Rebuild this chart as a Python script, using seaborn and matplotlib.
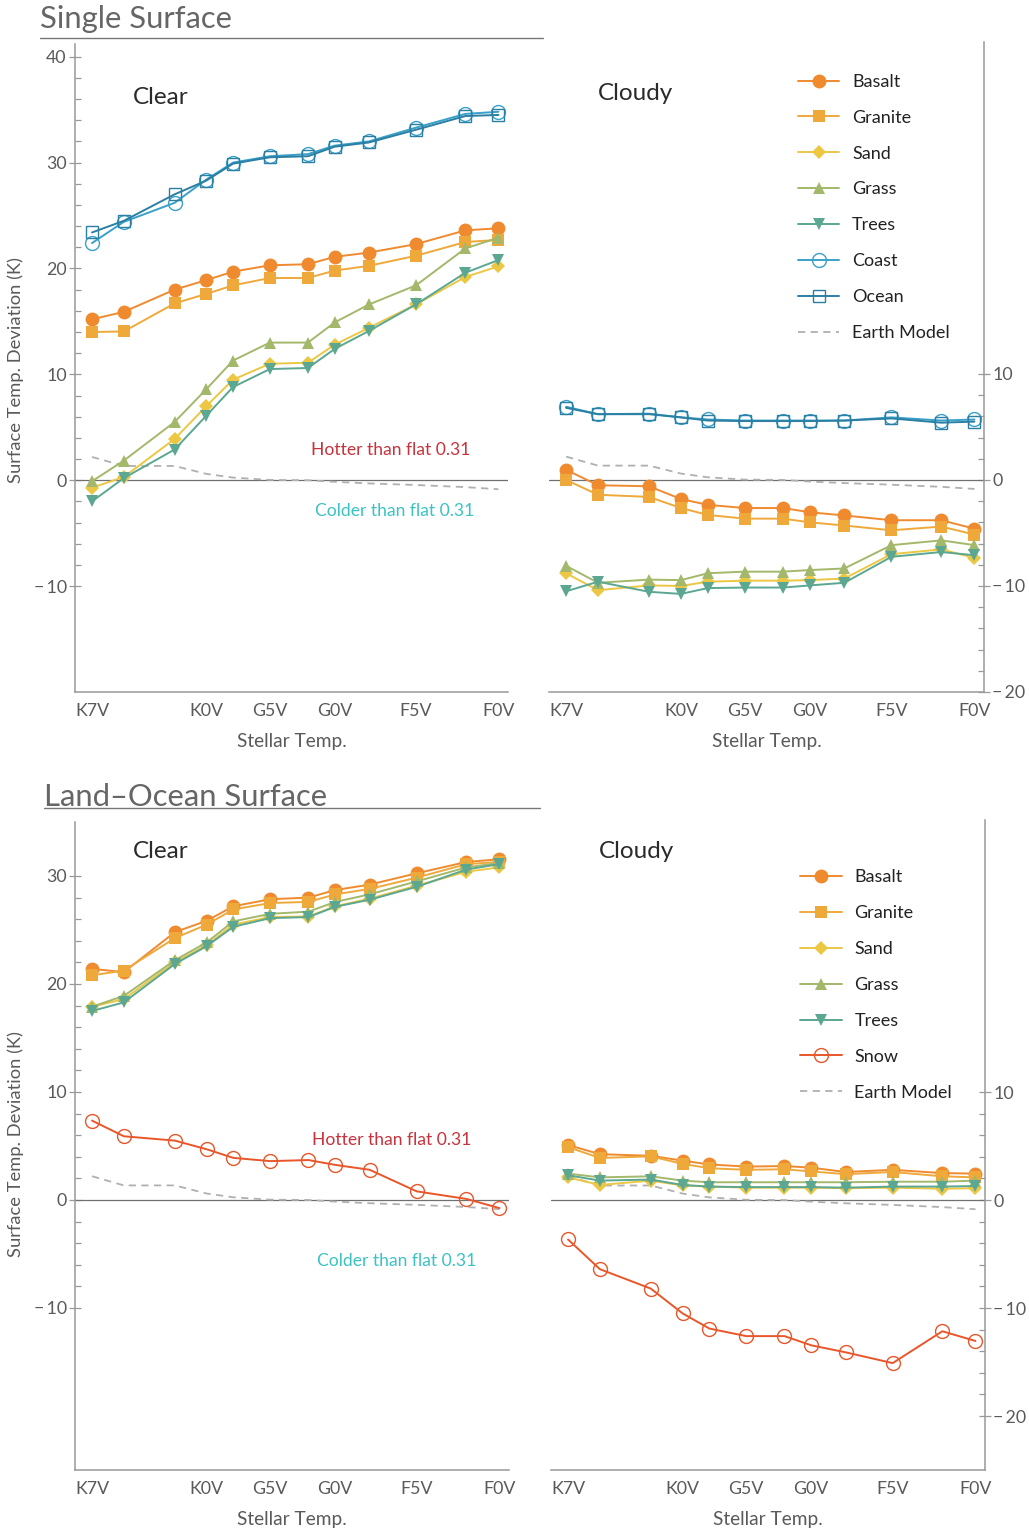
import numpy as np
import pandas as pd
import matplotlib
matplotlib.use("Agg")
import matplotlib.pyplot as plt
import seaborn as sns
from matplotlib.lines import Line2D

sns.set_theme(style="white")
plt.rcParams['font.family'] = ['Lato', 'DejaVu Sans']
plt.rcParams['axes.unicode_minus'] = True

# Stellar effective temperatures (K) of the host stars, K7V ... F0V
star_teff = [4000, 4250, 4650, 4900, 5110, 5400, 5700, 5910, 6180, 6550, 6940, 7200]
spectral_labels = ["K7V", "", "", "K0V", "", "G5V", "", "G0V", "", "F5V", "", "F0V"]

earth_model = [2.2, 1.35, 1.35, 0.6, 0.25, 0.03, 0.0, -0.15, -0.3, -0.45, -0.65, -0.85]

# Single surface, clear sky
ss_clear_basalt = [15.2, 15.9, 18.0, 18.9, 19.7, 20.3, 20.4, 21.1, 21.5, 22.3, 23.6, 23.8]
ss_clear_granite = [14.0, 14.05, 16.7, 17.6, 18.4, 19.1, 19.1, 19.8, 20.25, 21.2, 22.5, 22.7]
ss_clear_sand = [-0.7, 0.3, 3.9, 7.0, 9.5, 11.0, 11.1, 12.8, 14.4, 16.6, 19.2, 20.2]
ss_clear_grass = [-0.1, 1.85, 5.5, 8.6, 11.3, 13.0, 13.0, 14.9, 16.6, 18.4, 21.9, 22.9]
ss_clear_trees = [-2.0, 0.2, 2.9, 6.1, 8.8, 10.5, 10.6, 12.4, 14.1, 16.6, 19.6, 20.8]
ss_clear_coast = [22.4, 24.4, 26.2, 28.4, 30.0, 30.6, 30.8, 31.6, 32.0, 33.3, 34.6, 34.8]
ss_clear_ocean = [23.4, 24.5, 27.0, 28.3, 29.9, 30.5, 30.6, 31.5, 31.9, 33.1, 34.4, 34.5]

# Single surface, cloudy sky
ss_cloudy_basalt = [0.95, -0.5, -0.6, -1.8, -2.35, -2.65, -2.65, -3.05, -3.35, -3.8, -3.8, -4.6]
ss_cloudy_granite = [0.0, -1.4, -1.6, -2.65, -3.3, -3.65, -3.65, -4.0, -4.3, -4.75, -4.4, -5.15]
ss_cloudy_sand = [-8.8, -10.4, -9.95, -10.0, -9.6, -9.5, -9.5, -9.45, -9.3, -7.0, -6.55, -7.35]
ss_cloudy_grass = [-8.1, -9.7, -9.4, -9.45, -8.8, -8.65, -8.65, -8.5, -8.35, -6.15, -5.7, -6.15]
ss_cloudy_trees = [-10.5, -9.6, -10.55, -10.75, -10.2, -10.15, -10.15, -9.95, -9.7, -7.25, -6.8, -7.1]
ss_cloudy_coast = [6.9, 6.2, 6.25, 5.9, 5.7, 5.6, 5.6, 5.6, 5.6, 5.9, 5.6, 5.7]
ss_cloudy_ocean = [6.8, 6.2, 6.2, 5.9, 5.6, 5.55, 5.55, 5.55, 5.6, 5.8, 5.4, 5.5]

# Land-ocean surface, clear sky
lo_clear_basalt = [21.4, 21.1, 24.8, 25.85, 27.2, 27.85, 28.0, 28.7, 29.2, 30.25, 31.3, 31.55]
lo_clear_granite = [20.8, 21.25, 24.25, 25.5, 26.9, 27.5, 27.6, 28.3, 28.8, 29.85, 31.1, 31.3]
lo_clear_sand = [17.9, 18.6, 22.0, 23.6, 25.5, 26.2, 26.25, 27.2, 27.9, 29.1, 30.4, 30.8]
lo_clear_grass = [17.9, 18.9, 22.2, 23.85, 25.8, 26.5, 26.7, 27.6, 28.3, 29.5, 30.8, 31.2]
lo_clear_trees = [17.5, 18.3, 21.85, 23.5, 25.3, 26.1, 26.2, 27.15, 27.8, 29.0, 30.6, 31.1]
lo_clear_snow = [7.35, 5.9, 5.5, 4.7, 3.9, 3.6, 3.7, 3.25, 2.8, 0.8, 0.1, -0.75]

# Land-ocean surface, cloudy sky
lo_cloudy_basalt = [5.1, 4.25, 4.1, 3.65, 3.3, 3.1, 3.15, 3.0, 2.6, 2.8, 2.5, 2.45]
lo_cloudy_granite = [4.9, 3.9, 4.05, 3.35, 2.95, 2.8, 2.85, 2.65, 2.4, 2.6, 2.2, 2.1]
lo_cloudy_sand = [2.1, 1.4, 1.8, 1.35, 1.25, 1.15, 1.15, 1.15, 1.1, 1.15, 1.05, 1.1]
lo_cloudy_grass = [2.45, 2.1, 2.2, 1.8, 1.65, 1.65, 1.65, 1.65, 1.65, 1.7, 1.7, 1.8]
lo_cloudy_trees = [2.3, 1.8, 1.9, 1.4, 1.25, 1.2, 1.2, 1.2, 1.15, 1.25, 1.25, 1.3]
lo_cloudy_snow = [-3.65, -6.4, -8.2, -10.5, -11.9, -12.6, -12.6, -13.45, -14.1, -15.1, -12.15, -13.05]

# name -> (colour, marker, filled, marker size)
styles = {
    "Basalt": ("#F08A2E", "o", True, 10),
    "Granite": ("#EFA93A", "s", True, 8.5),
    "Sand": ("#EBC744", "D", True, 7),
    "Grass": ("#A3B86A", "^", True, 9),
    "Trees": ("#5BA792", "v", True, 9),
    "Coast": ("#3AA0C9", "o", False, 10),
    "Ocean": ("#2A7FA2", "s", False, 9),
    "Snow": ("#E8562A", "o", False, 10),
}

panels = {
    "ss_clear": {"Basalt": ss_clear_basalt, "Granite": ss_clear_granite, "Sand": ss_clear_sand,
                 "Grass": ss_clear_grass, "Trees": ss_clear_trees, "Coast": ss_clear_coast,
                 "Ocean": ss_clear_ocean},
    "ss_cloudy": {"Basalt": ss_cloudy_basalt, "Granite": ss_cloudy_granite, "Sand": ss_cloudy_sand,
                  "Grass": ss_cloudy_grass, "Trees": ss_cloudy_trees, "Coast": ss_cloudy_coast,
                  "Ocean": ss_cloudy_ocean},
    "lo_clear": {"Basalt": lo_clear_basalt, "Granite": lo_clear_granite, "Sand": lo_clear_sand,
                 "Grass": lo_clear_grass, "Trees": lo_clear_trees, "Snow": lo_clear_snow},
    "lo_cloudy": {"Basalt": lo_cloudy_basalt, "Granite": lo_cloudy_granite, "Sand": lo_cloudy_sand,
                  "Grass": lo_cloudy_grass, "Trees": lo_cloudy_trees, "Snow": lo_cloudy_snow},
}

AX_COL = "#999999"
TXT_COL = "#5a5a5a"
W, H = 1029, 1532

fig = plt.figure(figsize=(W / 100, H / 100), dpi=100)


def px_axes(x0, x1, y0, y1):
    return fig.add_axes([x0 / W, 1 - y1 / H, (x1 - x0) / W, (y1 - y0) / H])


def draw_panel(ax, series, side, ylim, yticks_major, yticks_minor):
    ax.set_facecolor("white")
    ax.axhline(0, color="#707070", lw=0.9, zorder=1)
    sns.lineplot(x=star_teff, y=earth_model, ax=ax, color="#b0b0b0", lw=1.3,
                 linestyle=(0, (4, 3)), label="Earth Model", zorder=2)
    for name, vals in series.items():
        col, mk, filled, ms = styles[name]
        sns.lineplot(x=star_teff, y=vals, ax=ax, color=col, lw=1.4, marker=mk,
                     markersize=ms, markerfacecolor=col if filled else "none",
                     markeredgecolor=col, markeredgewidth=0 if filled else 1.0,
                     label=name, zorder=3)
    ax.set_xlim(3866, 7275)
    ax.set_ylim(*ylim)
    ax.set_xticks(star_teff)
    ax.set_xticklabels(spectral_labels)
    ax.tick_params(axis="x", direction="in", length=6, width=0.9, color=AX_COL,
                   labelsize=12.8, labelcolor=TXT_COL, pad=8)
    ax.set_yticks(yticks_major)
    ax.set_yticks(yticks_minor, minor=True)
    ax.set_yticklabels([f"{v:d}".replace("-", "\u2212\u2009") for v in yticks_major])
    for s in ax.spines.values():
        s.set_color(AX_COL)
        s.set_linewidth(1.1)
    ax.spines["top"].set_visible(False)
    if side == "left":
        ax.spines["right"].set_visible(False)
        ax.yaxis.tick_left()
    else:
        ax.spines["left"].set_visible(False)
        ax.yaxis.tick_right()
    ax.tick_params(axis="y", which="major", direction="inout", length=8, width=0.9,
                   color=AX_COL, labelsize=12.8, labelcolor=TXT_COL, pad=2)
    ax.tick_params(axis="y", which="minor", direction="in", length=4, width=0.9,
                   color=AX_COL)
    ax.set_xlabel("Stellar Temp.", fontsize=13.8, color=TXT_COL, labelpad=10)
    ax.set_ylabel("")
    ax.grid(False)
    leg = ax.get_legend()
    if leg is not None:
        leg.remove()


def add_legend(ax, order, anchor):
    handles, labels = ax.get_legend_handles_labels()
    lookup = dict(zip(labels, handles))
    ax.legend([lookup[k] for k in order], order, loc="upper left", bbox_to_anchor=anchor,
              frameon=False, fontsize=13, labelspacing=1.1, handlelength=2.3,
              handletextpad=0.7, borderpad=0, borderaxespad=0, labelcolor="#222222")


# ---- Single Surface ----
ax1 = px_axes(75, 508, 44, 692)
ax2 = px_axes(549, 984, 42, 692)
draw_panel(ax1, panels["ss_clear"], "left", (-20, 41.2), [-10, 0, 10, 20, 30, 40],
           [v for v in range(-10, 41, 2) if v % 10])
draw_panel(ax2, panels["ss_cloudy"], "right", (-20, 41.3), [-20, -10, 0, 10],
           [v for v in range(-20, 11, 2) if v % 10])
add_legend(ax2, ["Basalt", "Granite", "Sand", "Grass", "Trees", "Coast", "Ocean", "Earth Model"],
           (0.572, 0.951))

# ---- Land-Ocean Surface ----
ax3 = px_axes(75, 509, 822, 1470)
ax4 = px_axes(551, 985, 820, 1470)
draw_panel(ax3, panels["lo_clear"], "left", (-25, 35), [-10, 0, 10, 20, 30],
           [v for v in range(-10, 31, 2) if v % 10])
draw_panel(ax4, panels["lo_cloudy"], "right", (-25, 35.2), [-20, -10, 0, 10],
           [v for v in range(-20, 11, 2) if v % 10])
add_legend(ax4, ["Basalt", "Granite", "Sand", "Grass", "Trees", "Snow", "Earth Model"],
           (0.574, 0.924))

# panel captions
for ax, txt, pos in [(ax1, "Clear", (0.134, 0.918)), (ax2, "Cloudy", (0.113, 0.921)),
                     (ax3, "Clear", (0.134, 0.954)), (ax4, "Cloudy", (0.111, 0.951))]:
    ax.text(*pos, txt, transform=ax.transAxes, fontsize=17.5, color="#2a2a2a",
            ha="left", va="center")

# hotter / colder annotations
ax1.text(6979, 2.83, "Hotter than flat 0.31", color="#C8323C", fontsize=12.6, ha="right", va="center")
ax1.text(7010, -2.9, "Colder than flat 0.31", color="#3CC2C2", fontsize=12.6, ha="right", va="center")
ax3.text(6979, 5.55, "Hotter than flat 0.31", color="#C8323C", fontsize=12.6, ha="right", va="center")
ax3.text(7018, -5.65, "Colder than flat 0.31", color="#3CC2C2", fontsize=12.6, ha="right", va="center")

# section titles with underline
fig.text(40 / W, 1 - 19 / H, "Single Surface", fontsize=22.3, color="#666666", ha="left", va="center")
fig.add_artist(Line2D([40 / W, 543 / W], [1 - 38 / H, 1 - 38 / H], color="#777777", lw=1))
fig.text(44 / W, 1 - 797 / H, "Land\u2013Ocean Surface", fontsize=22.3, color="#666666",
         ha="left", va="center")
fig.add_artist(Line2D([44 / W, 540 / W], [1 - 808 / H, 1 - 808 / H], color="#777777", lw=1))

# y-axis titles
for yc in (370, 1144):
    fig.text(16 / W, 1 - yc / H, "Surface Temp. Deviation (K)", rotation=90, fontsize=13.2,
             color=TXT_COL, ha="center", va="center")

fig.savefig("out.png", dpi=100, facecolor="white")
